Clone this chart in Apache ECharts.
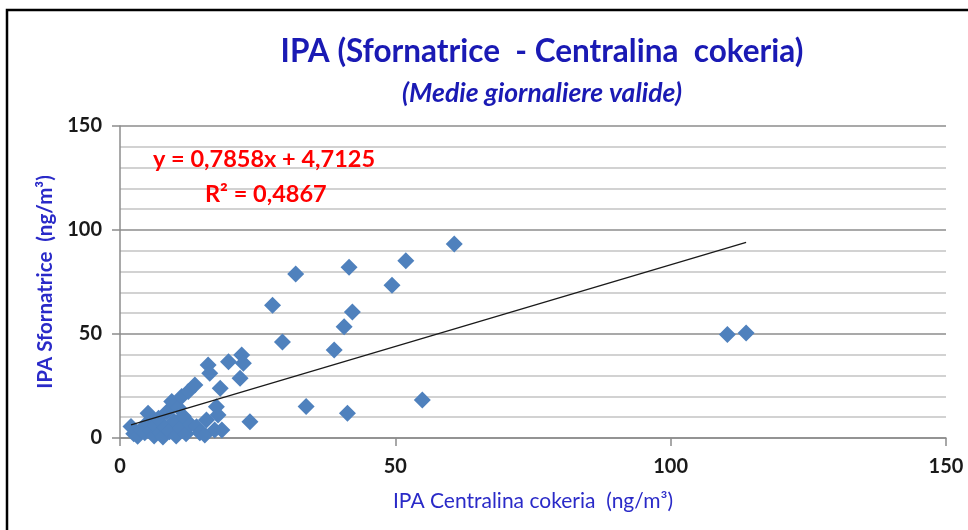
<!DOCTYPE html>
<html>
<head>
<meta charset="utf-8">
<script src="https://cdn.jsdelivr.net/npm/echarts@6/dist/echarts.min.js"></script>
<style>
html, body { margin: 0; padding: 0; background: #fff; }
#main { width: 968px; height: 530px; }
</style>
</head>
<body>
<div id="main"></div>
<script>
// IPA giornaliero: Centralina cokeria (x) vs Sfornatrice (y), ng/m3
var cokeria = [
  2.0, 2.5, 3.2, 3.8, 4.5, 5.0, 5.1, 5.6, 6.2, 6.5, 7.0, 7.3, 7.8, 8.2, 8.5, 9.0,
  9.4, 9.8, 10.2, 10.6, 11.0, 11.2, 11.5, 12.0, 12.4, 12.8, 13.6, 13.9, 14.5, 15.4,
  15.7, 16.0, 16.3, 17.2, 17.5, 17.8, 18.2, 18.5, 19.7, 21.8, 22.1, 22.4, 23.6,
  27.7, 29.5, 31.9, 33.8, 38.9, 40.7, 41.3, 41.6, 42.2, 49.4, 51.9, 54.9, 60.7,
  110.3, 113.7
];
var sfornatrice = [
  5.5, 2.0, 0.8, 4.0, 2.5, 7.5, 11.9, 3.5, 1.0, 6.0, 9.5, 2.5, 0.5, 5.0, 12.5, 3.0,
  17.5, 8.0, 1.0, 14.5, 4.5, 19.9, 10.5, 2.0, 22.3, 6.5, 25.5, 5.4, 2.5, 1.4,
  8.7, 35.1, 31.1, 3.8, 15.0, 11.1, 23.9, 3.8, 36.7, 28.7, 39.9, 35.9, 7.8,
  63.8, 46.2, 78.8, 15.1, 42.3, 53.5, 11.9, 82.1, 60.6, 73.4, 85.2, 18.3, 93.3,
  49.8, 50.5
];
var xTicks = [0, 50, 100, 150];
var yTicks = [0, 50, 100, 150];
// linea di tendenza lineare (Excel)
var slope = 0.7858;
var intercept = 4.7125;
var eqText = 'y = 0,7858x + 4,7125';
var r2Text = 'R\u00b2 = 0,4867';

var points = [];
for (var i = 0; i < cokeria.length; i++) {
  points.push([cokeria[i], sfornatrice[i]]);
}
var xMin = Math.min.apply(null, cokeria);
var xMax = Math.max.apply(null, cokeria);
var trend = [[xMin, slope * xMin + intercept], [xMax, slope * xMax + intercept]];

var font = 'Lato';
var myChart = echarts.init(document.getElementById('main'));
var option = {
  animation: false,
  backgroundColor: '#fff',
  textStyle: { fontFamily: font },
  title: [{
    text: 'IPA (Sfornatrice  - Centralina  cokeria)',
    left: 537, top: 31, textAlign: 'center',
    textStyle: { color: '#1a1ab4', fontSize: 31.5, fontWeight: 'bold', fontFamily: font }
  }, {
    text: '(Medie giornaliere valide)',
    left: 537, top: 75, textAlign: 'center',
    textStyle: { color: '#1a1ab4', fontSize: 26.5, fontWeight: 'bold', fontStyle: 'italic', fontFamily: font }
  }],
  grid: { left: 120, right: 22, top: 126, bottom: 92 },
  xAxis: {
    type: 'value',
    min: xTicks[0], max: xTicks[xTicks.length - 1], interval: xTicks[1] - xTicks[0],
    name: 'IPA Centralina cokeria  (ng/m\u00b3)',
    nameLocation: 'middle', nameGap: 53,
    nameTextStyle: { color: '#2a2ac8', fontSize: 21, fontFamily: font },
    axisLine: { lineStyle: { color: '#8c8c8c', width: 1.5 } },
    axisTick: { show: true, length: 8, lineStyle: { color: '#8c8c8c', width: 1.5 } },
    axisLabel: { color: '#1a1a1a', fontSize: 20, fontWeight: 'bold', margin: 19, fontFamily: font },
    splitLine: { show: false }
  },
  yAxis: {
    type: 'value',
    min: yTicks[0], max: yTicks[yTicks.length - 1], interval: yTicks[1] - yTicks[0],
    name: 'IPA Sfornatrice  (ng/m\u00b3)',
    nameLocation: 'middle', nameGap: 62, nameRotate: 90,
    nameTextStyle: { color: '#2a2ac8', fontSize: 20.5, fontWeight: 'bold', fontFamily: font },
    axisLine: { show: true, lineStyle: { color: '#8c8c8c', width: 1.5 } },
    axisTick: { show: true, length: 8, lineStyle: { color: '#8c8c8c', width: 1.5 } },
    axisLabel: { color: '#1a1a1a', fontSize: 20, fontWeight: 'bold', margin: 18, fontFamily: font },
    splitLine: { show: true, lineStyle: { color: '#8c8c8c', width: 1.5 } },
    minorTick: { show: false, splitNumber: 5 },
    minorSplitLine: { show: true, lineStyle: { color: '#c4c4c4', width: 1.5 } }
  },
  series: [{
    name: 'IPA',
    type: 'scatter',
    symbol: 'diamond',
    symbolSize: [17, 17],
    itemStyle: { color: '#4f81bd', opacity: 1 },
    data: points,
    z: 3
  }, {
    name: 'tendenza',
    type: 'line',
    data: trend,
    showSymbol: false,
    symbol: 'none',
    lineStyle: { color: '#1a1a1a', width: 1.3 },
    z: 4
  }],
  graphic: [{
    type: 'rect',
    shape: { x: 7, y: 10, width: 980, height: 540 },
    style: { fill: 'none', stroke: '#000', lineWidth: 2.5 },
    silent: true
  }, {
    type: 'text',
    left: 153, top: 147,
    style: { text: eqText, fill: '#ff0000', font: 'bold 23.5px Lato' },
    z: 10
  }, {
    type: 'text',
    left: 205, top: 182,
    style: { text: r2Text, fill: '#ff0000', font: 'bold 23.5px Lato' },
    z: 10
  }]
};
myChart.setOption(option, true);
</script>
</body>
</html>
